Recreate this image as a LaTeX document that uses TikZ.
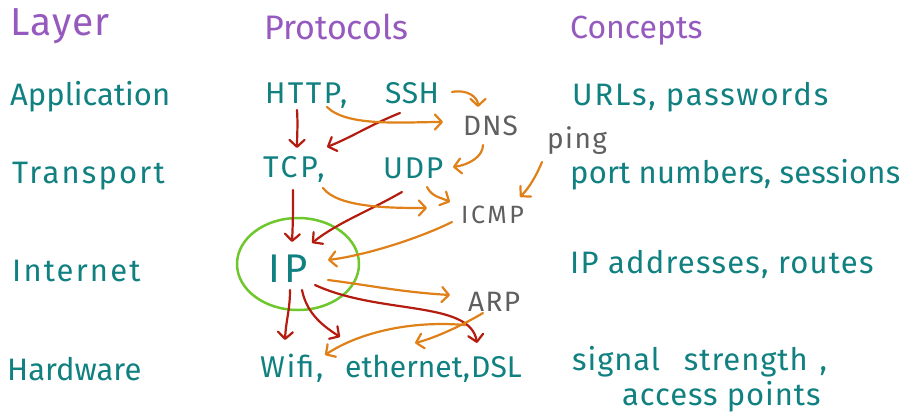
\documentclass[tikz,border=0pt]{standalone}
\usepackage{fontspec}
\setmainfont{Fira Sans}
\usetikzlibrary{arrows.meta,calc}
\definecolor{tealc}{RGB}{16,128,128}
\definecolor{purp}{RGB}{150,90,190}
\definecolor{grayc}{RGB}{95,95,95}
\definecolor{redc}{RGB}{180,28,15}
\definecolor{orangec}{RGB}{224,128,24}
\definecolor{greenc}{RGB}{110,200,45}
\newcommand{\fsz}[2]{\fontsize{#1}{#1}\selectfont\addfontfeatures{LetterSpace=#2}}
\begin{document}
\begin{tikzpicture}[x=1pt,y=1pt,
  lbl/.style={anchor=base west, inner sep=0pt, text=tealc, font=\fsz{31}{0}},
  head/.style={lbl, text=purp},
  proto/.style={lbl, text=grayc},
  conn/.style={line width=2.2pt, line cap=round, -{Straight Barb[length=7pt,width=15pt,round]}},
  redarr/.style={conn, draw=redc},
  orarr/.style={conn, draw=orangec}]
\useasboundingbox (0,0) rectangle (907,-418);
\fill[white] (0,0) rectangle (907,-418);
% headers
\node[head, font=\fsz{39}{3}] (layer) at (10,-35) {Layer};
\node[head, font=\fsz{34}{0}] (protocols) at (264,-39) {Protocols};
\node[head, font=\fsz{32}{0}] (concepts) at (570,-38) {Concepts};
% layers
\node[lbl] (application) at (10,-105) {Application};
\node[lbl, font=\fsz{31}{7}] (transport) at (12,-183) {Transport};
\node[lbl, font=\fsz{31}{7}] (internet) at (12,-281) {Internet};
\node[lbl] (hardware) at (7,-380) {Hardware};
% protocols
\node[lbl, font=\fsz{30}{8}] (http) at (265,-103) {HTTP,};
\node[lbl, font=\fsz{30}{2}] (ssh) at (385,-103) {SSH};
\node[proto, font=\fsz{28}{4}] (dns) at (463,-135) {DNS};
\node[lbl, font=\fsz{30}{10}] (tcp) at (263,-177) {TCP,};
\node[lbl, font=\fsz{30}{6}] (udp) at (383,-178) {UDP};
\node[proto, font=\fsz{28}{5}] (ping) at (547,-148) {ping};
\node[proto, font=\fsz{25}{10}] (icmp) at (461,-223) {ICMP};
\node[lbl, font=\fsz{40}{12}] (ip) at (268,-282) {IP};
\node[proto, font=\fsz{28}{5}] (arp) at (468,-311) {ARP};
\node[lbl, font=\fsz{30}{6}] (wifi) at (260,-377) {Wifi,};
\node[lbl, font=\fsz{30}{0}] (ethernet) at (345,-377) {ethernet,};
\node[lbl, font=\fsz{30}{0}] (dsl) at (471,-377) {DSL};
% concepts
\node[lbl, font=\fsz{31}{6}] (urls) at (572,-105) {URLs, passwords};
\node[lbl, font=\fsz{31}{0.5}] (port) at (570,-183) {port numbers, sessions};
\node[lbl, font=\fsz{31}{4}] (ipaddr) at (570,-273) {IP addresses, routes};
\node[lbl, font=\fsz{31}{3}] (signal) at (572,-370) {signal\hspace{24pt}strength\hspace{12pt},};
\node[lbl, font=\fsz{31}{3}] (access) at (622,-405) {access points};
% green circle
\draw[greenc, line width=2.5pt] ($(ip.base west)+(30,18)$) ellipse [x radius=61pt, y radius=46pt];
% red arrows
\draw[redarr] ($(http.base west)+(32,-7)$) .. controls +(1,-15) and +(0,12) .. ($(tcp.base west)+(34,29)$);
\draw[redarr] ($(ssh.base west)+(15,-10)$) .. controls +(-30,-12) and +(25,10) .. ($(tcp.base west)+(64,30)$);
\draw[redarr] ($(tcp.base west)+(30,-13)$) .. controls +(0,-20) and +(1,20) .. ($(ip.base west)+(24,40)$);
\draw[redarr] ($(udp.base west)+(19,-14)$) .. controls +(-35,-20) and +(25,20) .. ($(ip.base west)+(44,39)$);
\draw[redarr] ($(ip.base west)+(22,-8)$) .. controls +(0,-20) and +(1,20) .. ($(wifi.base west)+(25,37)$);
\draw[redarr] ($(ip.base west)+(34,-8)$) .. controls +(5,-25) and +(-15,10) .. ($(ethernet.base west)+(-5,40)$);
\draw[redarr] ($(ip.base west)+(47,-3)$) .. controls +(65,-30) and +(-7,43) .. ($(dsl.base west)+(6,34)$);
% orange arrows
\draw[orarr] ($(ssh.base west)+(67,11)$) .. controls +(15,3) and +(0,10) .. ($(dns.base west)+(15,28)$);
\draw[orarr] ($(http.base west)+(62,-4)$) .. controls +(20,-20) and +(-40,0) .. ($(dns.base west)+(-20,13)$);
\draw[orarr] ($(dns.base west)+(20,-10)$) .. controls +(0,-12) and +(15,2) .. ($(udp.base west)+(70,11)$);
\draw[orarr] ($(tcp.base west)+(60,-11)$) .. controls +(15,-20) and +(-35,0) .. ($(icmp.base west)+(-34,15)$);
\draw[orarr] ($(udp.base west)+(44,-9)$) .. controls +(5,-10) and +(-10,5) .. ($(icmp.base west)+(-11,21)$);
\draw[orarr] ($(ping.base west)+(-5,-14)$) .. controls +(-5,-12) and +(10,10) .. ($(icmp.base west)+(59,26)$);
\draw[orarr] ($(icmp.base west)+(-9,1)$) .. controls +(-30,-15) and +(40,5) .. ($(ip.base west)+(60,22)$);
\draw[orarr] ($(ip.base west)+(60,2)$) .. controls +(40,-5) and +(-50,3) .. ($(arp.base west)+(-18,16)$);
\draw[orarr] ($(arp.base west)+(-3,-14)$) .. controls +(-60,5) and +(30,20) .. ($(wifi.base west)+(65,22)$);
\draw[orarr] ($(arp.base west)+(15,-2)$) .. controls +(-20,-12) and +(20,5) .. ($(ethernet.base west)+(70,34)$);
\end{tikzpicture}
\end{document}
